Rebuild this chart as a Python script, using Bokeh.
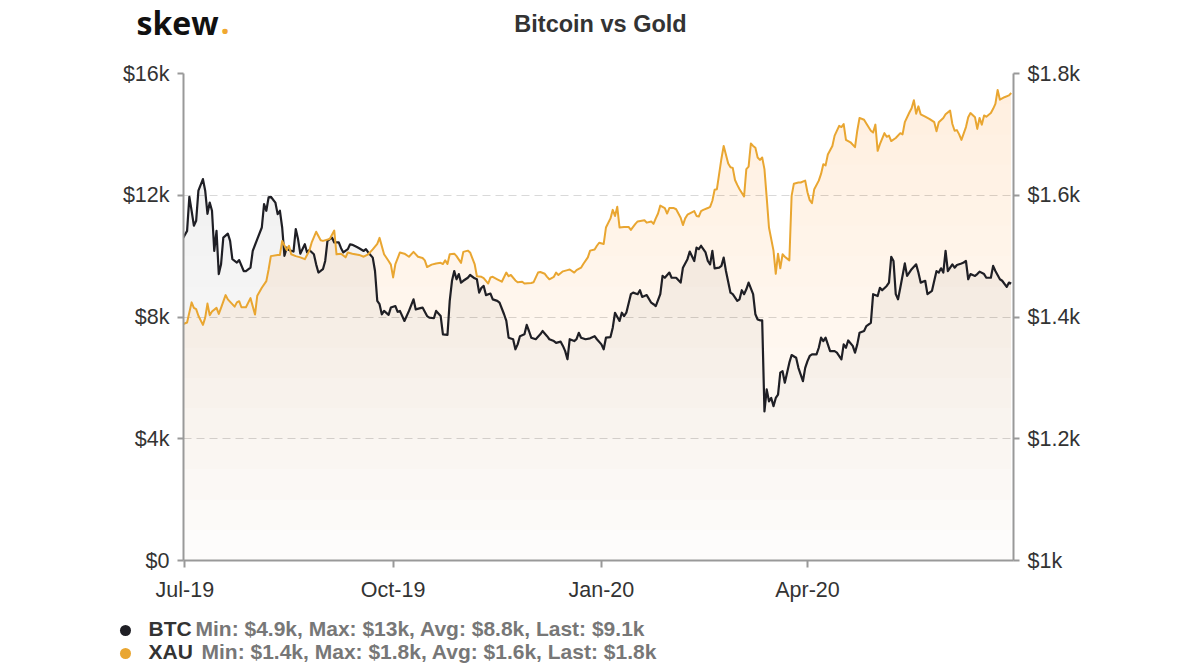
import numpy as np
import pandas as pd
from bokeh.plotting import figure
from bokeh.layouts import column
from bokeh.models import Range1d, LinearAxis, FixedTicker
from bokeh.core.properties import value
from bokeh.embed import file_html
from bokeh.resources import INLINE

# ---------------- data ----------------
start_date = "2019-07-01"          # day 0 of the day offsets below
tick_dates = ["2019-07-01", "2019-10-01", "2020-01-01", "2020-04-01"]

btc_day = [
    -1, 1, 2, 3, 4, 5, 6, 8, 9, 10,
    11, 12, 13, 14, 15, 16, 17, 19, 20, 21,
    23, 24, 26, 27, 29, 30, 32, 34, 35, 36,
    37, 38, 40, 41, 42, 43, 44, 45, 46, 48,
    49, 50, 51, 53, 54, 55, 57, 58, 59, 61,
    62, 63, 65, 66, 68, 69, 70, 72, 73, 74,
    76, 77, 79, 80, 81, 83, 84, 85, 86, 87,
    88, 90, 91, 93, 94, 95, 97, 99, 101, 102,
    104, 105, 107, 108, 110, 111, 113, 114, 116, 117,
    118, 119, 120, 121, 122, 123, 125, 126, 128, 129,
    130, 131, 132, 133, 135, 136, 138, 139, 141, 142,
    143, 145, 146, 147, 148, 150, 151, 152, 153, 155,
    157, 158, 160, 161, 163, 164, 166, 167, 168, 169,
    170, 172, 173, 174, 175, 177, 179, 181, 182, 184,
    185, 186, 188, 189, 190, 192, 193, 194, 195, 197,
    198, 200, 201, 202, 204, 206, 207, 208, 210, 211,
    212, 214, 215, 217, 219, 220, 221, 222, 223, 225,
    226, 227, 228, 230, 231, 232, 233, 234, 236, 237,
    238, 239, 241, 242, 244, 245, 246, 247, 248, 249,
    251, 252, 253, 254, 255, 256, 257, 258, 259, 260,
    261, 262, 263, 264, 265, 267, 268, 270, 271, 273,
    274, 275, 276, 277, 279, 280, 281, 282, 283, 285,
    287, 288, 290, 291, 292, 293, 295, 296, 297, 298,
    300, 301, 303, 304, 306, 307, 308, 310, 311, 312,
    313, 314, 315, 316, 318, 319, 321, 323, 324, 325,
    327, 328, 330, 331, 332, 333, 334, 335, 336, 337,
    339, 340, 341, 343, 344, 345, 346, 347, 349, 350,
    351, 353, 354, 356, 357, 358, 360, 361, 363, 364,
    365,
]
btc_kusd = [
    10.56, 10.83, 11.95, 11.49, 11.0, 11.16, 12.15, 12.53, 12.15, 11.39,
    11.76, 11.49, 10.17, 10.83, 9.41, 9.73, 10.61, 10.74, 10.5, 9.9,
    9.79, 9.87, 9.51, 9.51, 9.62, 10.17, 10.56, 10.94, 11.71, 11.49,
    11.93, 11.95, 11.76, 11.38, 11.49, 10.94, 10.01, 10.28, 10.2, 10.15,
    10.89, 10.56, 10.08, 10.39, 10.12, 10.2, 10.06, 9.73, 9.46, 9.57,
    9.84, 10.5, 10.61, 10.45, 10.45, 10.26, 10.12, 10.23, 10.39, 10.37,
    10.3, 10.26, 10.17, 10.23, 10.12, 9.95, 9.51, 8.53, 8.42, 8.09,
    8.2, 8.07, 8.31, 8.36, 8.17, 8.2, 7.87, 8.2, 8.58, 8.25,
    8.29, 8.31, 8.03, 7.98, 7.96, 8.2, 8.03, 7.43, 7.41, 8.53,
    9.19, 9.51, 9.24, 9.41, 9.13, 9.19, 9.29, 9.38, 9.27, 9.24,
    8.8, 8.96, 9.02, 8.72, 8.77, 8.58, 8.53, 8.47, 8.09, 7.87,
    7.32, 7.27, 6.94, 7.1, 7.37, 7.43, 7.74, 7.54, 7.32, 7.27,
    7.43, 7.54, 7.37, 7.27, 7.21, 7.15, 7.19, 7.05, 6.88, 6.61,
    7.27, 7.21, 7.27, 7.48, 7.32, 7.27, 7.3, 7.37, 7.27, 7.1,
    6.94, 7.32, 7.34, 7.65, 8.14, 7.87, 8.14, 8.03, 8.14, 8.75,
    8.8, 8.75, 8.88, 8.66, 8.72, 8.47, 8.42, 8.36, 8.75, 9.35,
    9.29, 9.46, 9.29, 9.29, 9.13, 9.62, 9.76, 9.9, 10.15, 9.84,
    10.28, 10.23, 10.34, 10.12, 9.84, 9.73, 10.17, 9.6, 9.62, 9.68,
    9.95, 9.51, 8.8, 8.75, 8.53, 8.58, 8.88, 8.75, 8.91, 9.13,
    8.75, 8.09, 7.92, 7.89, 7.89, 4.9, 5.62, 5.23, 5.34, 5.07,
    5.34, 5.45, 6.17, 6.22, 5.84, 6.5, 6.75, 6.66, 6.33, 5.89,
    6.33, 6.55, 6.72, 6.77, 6.77, 6.99, 7.32, 7.21, 7.32, 6.88,
    6.88, 6.83, 6.61, 7.1, 6.99, 7.23, 7.05, 6.83, 7.1, 7.48,
    7.54, 7.7, 7.81, 8.75, 8.69, 8.96, 8.88, 9.02, 9.13, 9.98,
    9.84, 8.75, 8.58, 8.96, 9.76, 9.35, 9.57, 9.73, 9.46, 9.13,
    9.19, 8.75, 8.86, 9.19, 9.51, 9.46, 9.6, 9.46, 10.17, 9.51,
    9.73, 9.62, 9.71, 9.76, 9.79, 9.84, 9.24, 9.41, 9.35, 9.41,
    9.49, 9.41, 9.29, 9.29, 9.68, 9.51, 9.24, 9.19, 8.99, 9.13,
    9.1,
]

xau_day = [
    -1, 1, 3, 4, 5, 6, 8, 9, 10, 11,
    12, 14, 15, 16, 18, 19, 22, 23, 24, 25,
    27, 29, 31, 32, 34, 36, 37, 38, 41, 42,
    43, 45, 46, 47, 49, 51, 53, 55, 56, 58,
    60, 61, 64, 65, 66, 67, 69, 71, 72, 74,
    77, 79, 81, 83, 85, 86, 88, 90, 91, 92,
    93, 95, 97, 99, 101, 103, 105, 106, 107, 109,
    111, 113, 114, 115, 116, 117, 119, 120, 122, 123,
    125, 126, 128, 129, 131, 132, 134, 135, 136, 138,
    140, 142, 143, 144, 146, 147, 149, 150, 153, 154,
    156, 157, 159, 160, 161, 163, 164, 165, 167, 169,
    170, 172, 173, 175, 176, 178, 179, 181, 182, 183,
    185, 186, 188, 189, 190, 191, 192, 194, 196, 197,
    199, 200, 203, 204, 206, 207, 208, 209, 210, 212,
    213, 214, 216, 217, 219, 220, 221, 222, 225, 226,
    227, 228, 229, 231, 232, 233, 234, 235, 236, 237,
    238, 240, 241, 242, 243, 244, 245, 247, 248, 249,
    250, 251, 252, 253, 254, 255, 256, 257, 258, 260,
    261, 262, 263, 264, 265, 267, 268, 269, 271, 272,
    274, 275, 276, 277, 278, 280, 281, 282, 283, 284,
    286, 287, 289, 290, 291, 292, 294, 296, 297, 298,
    300, 301, 303, 304, 305, 306, 307, 309, 310, 311,
    312, 314, 316, 317, 318, 320, 321, 322, 323, 324,
    325, 327, 329, 331, 332, 333, 335, 336, 338, 339,
    340, 341, 342, 343, 345, 346, 347, 349, 350, 351,
    352, 353, 354, 356, 357, 358, 359, 360, 362, 364,
    365,
]
xau_usd = [
    1388, 1391, 1424, 1415, 1413, 1402, 1387, 1399, 1422, 1403,
    1409, 1415, 1405, 1415, 1436, 1429, 1417, 1424, 1426, 1416,
    1416, 1431, 1404, 1435, 1448, 1459, 1478, 1500, 1502, 1502,
    1525, 1510, 1517, 1503, 1500, 1498, 1495, 1509, 1522, 1540,
    1526, 1525, 1528, 1535, 1542, 1503, 1504, 1498, 1506, 1504,
    1502, 1499, 1503, 1511, 1520, 1530, 1503, 1492, 1486, 1465,
    1487, 1506, 1504, 1499, 1507, 1499, 1497, 1493, 1482, 1486,
    1488, 1489, 1487, 1493, 1487, 1503, 1504, 1500, 1489, 1507,
    1509, 1506, 1487, 1467, 1466, 1464, 1455, 1465, 1466, 1462,
    1458, 1473, 1467, 1469, 1460, 1457, 1458, 1455, 1456, 1457,
    1473, 1474, 1471, 1466, 1462, 1466, 1473, 1469, 1475, 1477,
    1478, 1473, 1477, 1481, 1487, 1498, 1509, 1511, 1517, 1522,
    1520, 1547, 1562, 1576, 1566, 1581, 1547, 1548, 1548, 1543,
    1553, 1557, 1559, 1555, 1557, 1553, 1562, 1570, 1583, 1579,
    1570, 1579, 1579, 1577, 1563, 1551, 1562, 1568, 1574, 1566,
    1565, 1574, 1576, 1579, 1581, 1591, 1609, 1610, 1635, 1660,
    1681, 1652, 1646, 1645, 1625, 1617, 1610, 1598, 1643, 1647,
    1685, 1681, 1678, 1662, 1658, 1662, 1643, 1596, 1547, 1509,
    1471, 1504, 1480, 1503, 1499, 1493, 1599, 1619, 1621, 1621,
    1624, 1605, 1592, 1587, 1610, 1624, 1635, 1651, 1649, 1667,
    1681, 1698, 1714, 1712, 1717, 1691, 1687, 1679, 1706, 1727,
    1724, 1718, 1706, 1703, 1716, 1673, 1684, 1702, 1696, 1698,
    1689, 1694, 1702, 1700, 1720, 1736, 1743, 1756, 1734, 1746,
    1733, 1729, 1725, 1720, 1705, 1720, 1727, 1733, 1739, 1717,
    1706, 1707, 1700, 1691, 1712, 1728, 1735, 1728, 1709, 1727,
    1716, 1731, 1729, 1735, 1742, 1750, 1773, 1757, 1761, 1764,
    1768,
]

btc_ticks = [0, 4000, 8000, 12000, 16000]
btc_tick_labels = ["$0", "$4k", "$8k", "$12k", "$16k"]
xau_ticks = [1000, 1200, 1400, 1600, 1800]
xau_tick_labels = ["$1k", "$1.2k", "$1.4k", "$1.6k", "$1.8k"]
x_tick_labels = ["Jul-19", "Oct-19", "Jan-20", "Apr-20"]

series_names = ["BTC", "XAU"]
series_stats = ["Min: $4.9k, Max: $13k, Avg: $8.8k, Last: $9.1k",
                "Min: $1.4k, Max: $1.8k, Avg: $1.6k, Last: $1.8k"]
chart_title = "Bitcoin vs Gold"
brand = "skew"

assert len(btc_day) == len(btc_kusd)
assert len(xau_day) == len(xau_usd)

# ---------------- styling ----------------
FONT = "Liberation Sans"
BTC_COLOR = "#1f1f25"
BTC_FILL = "#4a5264"
XAU_COLOR = "#e9a631"
AXIS_COLOR = "#999999"
TEXT_COLOR = "#333333"
STATS_COLOR = "#777777"

W = 1200
TOP_H, MAIN_H, LEG_H = 56, 554, 58


def text_panel(y_top, height):
    """A blank strip whose data units equal page pixels (y grows downward)."""
    f = figure(width=W, height=height, output_backend="svg", toolbar_location=None, tools="",
               x_range=Range1d(0, W), y_range=Range1d(y_top + height, y_top),
               x_axis_location=None, y_axis_location=None, min_border=0)
    f.grid.visible = False
    f.outline_line_color = None
    f.frame_align = False
    return f


# ----- header: logo + title -----
top = text_panel(0, TOP_H)
top.text(x=[600], y=[23], text=[chart_title], text_font=value(FONT), text_font_style="bold",
         text_font_size=value("23.5px"), text_color=TEXT_COLOR, text_align="center",
         text_baseline="middle")
top.text(x=[136], y=[22], text=[brand], text_font=value("Open Sans"), text_font_style="bold",
         text_font_size=value("32px"), text_color="#111111", text_baseline="middle")
top.text(x=[220], y=[22], text=["."], text_font=value("Open Sans"), text_font_style="bold",
         text_font_size=value("32px"), text_color="#f0a830", text_baseline="middle")

# ----- main chart -----
t0 = pd.Timestamp(start_date)
btc_x = t0 + pd.to_timedelta(btc_day, unit="D")
btc_y = np.array(btc_kusd) * 1000.0
xau_x = t0 + pd.to_timedelta(xau_day, unit="D")
xau_y = np.array(xau_usd, dtype=float)

p = figure(width=W, height=MAIN_H, x_axis_type="datetime", output_backend="svg",
           toolbar_location=None, tools="", title=None,
           x_range=Range1d(t0 - pd.Timedelta(hours=14), t0 + pd.Timedelta(days=366)),
           y_range=Range1d(0, 16000),
           min_border_left=183, min_border_right=187, min_border_top=17, min_border_bottom=50)
p.extra_y_ranges = {"gold": Range1d(1000, 1800)}
p.outline_line_color = None
p.background_fill_color = "white"
p.border_fill_color = "white"
p.frame_align = False


def gradient_area(x, y, lo, hi, color, range_name, a0, da, k=16):
    """Area under the line, drawn as stacked translucent layers to imitate a vertical gradient."""
    edges = np.linspace(lo, hi, k + 1)[:-1]
    for j, e in enumerate(edges):
        alpha = a0 if j == 0 else da
        y2 = np.maximum(y, e)
        p.varea(x=x, y1=np.full(len(y), e), y2=y2, fill_color=color, fill_alpha=alpha,
                y_range_name=range_name)


gradient_area(btc_x, btc_y, 0, 16000, BTC_FILL, "default", a0=0.010, da=0.0085)
gradient_area(xau_x, xau_y, 1000, 1800, XAU_COLOR, "gold", a0=0.010, da=0.0062)

p.line(btc_x, btc_y, line_color=BTC_COLOR, line_width=2.2, line_join="round")
p.line(xau_x, xau_y, line_color=XAU_COLOR, line_width=2, line_join="round", y_range_name="gold")


def style_axis(ax):
    ax.axis_line_color = AXIS_COLOR
    ax.axis_line_width = 2
    ax.major_tick_line_color = AXIS_COLOR
    ax.major_tick_line_width = 2
    ax.major_tick_in = 0
    ax.major_tick_out = 6
    ax.minor_tick_line_color = None
    ax.major_label_text_font = FONT
    ax.major_label_text_font_size = "21.5px"
    ax.major_label_text_color = TEXT_COLOR
    ax.major_label_standoff = 8


yl = p.yaxis[0]
yl.ticker = FixedTicker(ticks=btc_ticks)
yl.major_label_overrides = dict(zip(btc_ticks, btc_tick_labels))
style_axis(yl)

yr = LinearAxis(y_range_name="gold", ticker=FixedTicker(ticks=xau_ticks),
                major_label_overrides=dict(zip(xau_ticks, xau_tick_labels)))
style_axis(yr)
p.add_layout(yr, "right")

xa = p.xaxis[0]
tick_ms = [pd.Timestamp(d).value // 10**6 for d in tick_dates]
xa.ticker = FixedTicker(ticks=tick_ms)
xa.major_label_overrides = dict(zip(tick_ms, x_tick_labels))
style_axis(xa)
xa.major_tick_out = 7
xa.major_label_standoff = 10

p.xgrid.grid_line_color = None
p.ygrid.ticker = FixedTicker(ticks=btc_ticks)
p.ygrid.grid_line_color = "#d9d9d9"
p.ygrid.grid_line_dash = "8 5"
p.ygrid.grid_line_width = 1

# ----- legend strip -----
y0 = TOP_H + MAIN_H
leg = text_panel(y0, LEG_H)
bullet_y = [630, 653]
text_y = [628, 651]
leg.scatter(x=[125, 125], y=bullet_y, marker="circle", size=11,
            fill_color=[BTC_COLOR, XAU_COLOR], line_color=None)
leg.text(x=[148, 148], y=text_y, text=series_names, text_font=value(FONT),
         text_font_style="bold", text_font_size=value("21px"), text_color=TEXT_COLOR,
         text_baseline="middle")
leg.text(x=[195, 201], y=text_y, text=series_stats, text_font=value(FONT),
         text_font_style="bold", text_font_size=value("21px"), text_color=STATS_COLOR,
         text_baseline="middle")

layout = column(top, p, leg, spacing=0)
open("out.html", "w").write(file_html(layout, INLINE))
